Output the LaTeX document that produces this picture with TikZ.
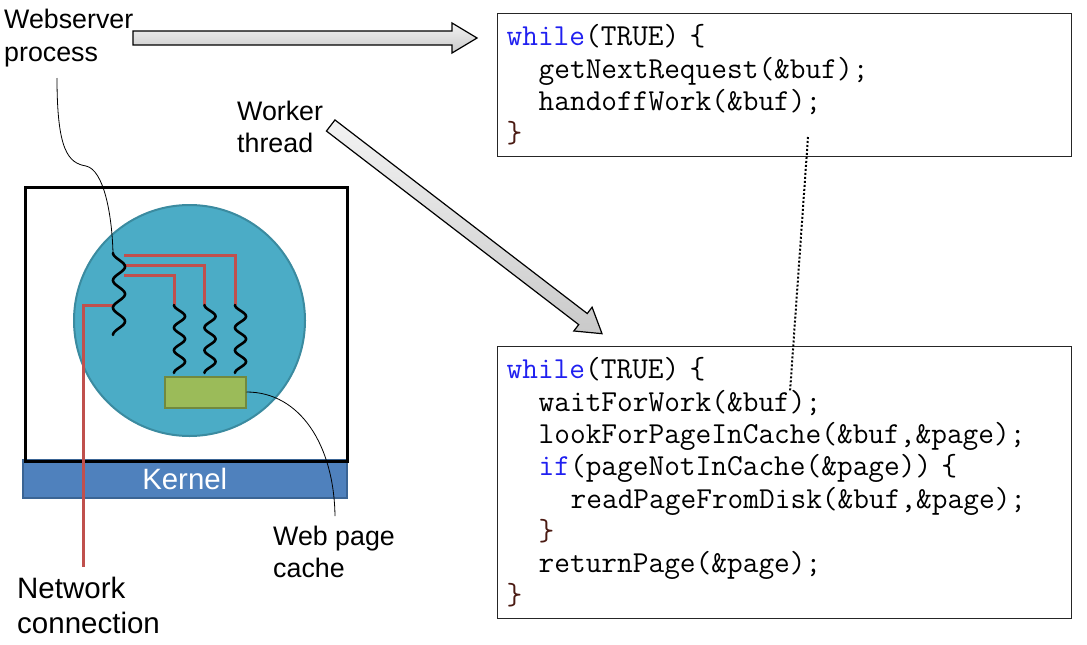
\documentclass[tikz,border=0pt]{standalone}
\usepackage{fontspec}
\setmainfont{Liberation Sans}
\usetikzlibrary{calc}
\definecolor{procblue}{HTML}{4BACC6}
\definecolor{procedge}{HTML}{3B8BA0}
\definecolor{kernelblue}{HTML}{4F81BD}
\definecolor{kerneledge}{HTML}{3A6494}
\definecolor{cachegreen}{HTML}{9BBB59}
\definecolor{cacheedge}{HTML}{71893F}
\definecolor{netred}{HTML}{C0504D}
\definecolor{kwblue}{HTML}{2020F0}
\definecolor{bracered}{HTML}{4A1A12}
\newcommand\codekw[1]{\textcolor{kwblue}{#1}}
\newcommand\codebr[1]{\textcolor{bracered}{#1}}
\newcommand\codeind{\hspace*{1.05em}}
\begin{document}
\begin{tikzpicture}[x=1pt,y=-1pt,
  lbl/.style={font=\fontsize{26.8}{32.5}\selectfont, align=left, inner sep=0pt, anchor=west},
  codebox/.style={draw=black!85, line width=1.2pt, anchor=north west, minimum width=574pt,
    text width=556pt, inner xsep=9pt, inner ysep=0pt, align=left,
    font=\ttfamily\fontsize{30.5}{32.3}\selectfont},
  thread/.style={line width=2.6pt, black, line cap=round},
  wire/.style={netred, line width=3pt},
  leader/.style={black, line width=0.8pt},
  blockarrow/.style={draw=black, line width=1.2pt, top color=gray!10, bottom color=gray!42},
]
\useasboundingbox (0,0) rectangle (1087,645);

% code boxes
\node[codebox, minimum height=143pt] (loop1) at (497,13)
  {\codekw{while}(TRUE) \{\\
   \codeind getNextRequest(\&buf);\\
   \codeind handoffWork(\&buf);\\
   \codebr{\}}};
\node[codebox, minimum height=272pt] (loop2) at (497,346)
  {\codekw{while}(TRUE) \{\\
   \codeind waitForWork(\&buf);\\
   \codeind lookForPageInCache(\&buf,\&page);\\
   \codeind \codekw{if}(pageNotInCache(\&page)) \{\\
   \codeind\codeind readPageFromDisk(\&buf,\&page);\\
   \codeind \codebr{\}}\\
   \codeind returnPage(\&page);\\
   \codebr{\}}};

% operating system box
\node[fill=kernelblue, draw=kerneledge, line width=1.5pt, minimum width=324pt, minimum height=38pt,
  inner sep=0pt, anchor=north west, text=white, font=\fontsize{29.4}{34}\selectfont] (kernel) at (22,459) {Kernel};
\node[draw=black, line width=3pt, minimum width=322pt, minimum height=274pt, inner sep=0pt,
  anchor=north west] (os) at (23.5,185.5) {};
\node[circle, fill=procblue, draw=procedge, line width=2pt, minimum size=231pt, inner sep=0pt] (proc) at (189.5,320.5) {};
\node[fill=cachegreen, draw=cacheedge, line width=2pt, minimum width=81pt, minimum height=31pt,
  inner sep=0pt, anchor=north west] (cache) at (163.5,375.5) {};

% red wires
\coordinate (mainTop) at (113,253);
\coordinate (netEnd) at (83,567);
\draw[wire] (124,255) -| (235,305);
\draw[wire] (124,265) -| (204.5,305);
\draw[wire] (124,275) -| (174,305);
\draw[wire] (113,305) -| (netEnd);

% threads
\draw[thread] plot[domain=0:1, samples=90, smooth] ({113+6-6*cos(3*360*\x)}, {253+82*\x});
\foreach \a in {174,204.5,235}
  \draw[thread] plot[domain=0:1, samples=90, smooth] ({\a+5.5-5.5*cos(3*360*\x)}, {305+68*\x});

% labels
\node[lbl] (ws) at (4,38) {Webserver\\process};
\node[lbl] (wt) at (237,127) {Worker\\thread};
\node[lbl, font=\fontsize{29.5}{35}\selectfont] (net) at (17,605) {Network\\connection};
\node[lbl] (wpc) at (273,552) {Web page\\cache};

% leader lines
\coordinate (wsEnd) at (57,78);
\draw[leader] (wsEnd) .. controls (57,150) and (68,163) .. (86,166)
  .. controls (104,170) and (112,215) .. (mainTop);
\coordinate (wpcEnd) at (335,516);
\draw[leader] (cache.east) .. controls (300,392) and (334,445) .. (wpcEnd);

% block arrows
\draw[blockarrow] (133,31) -- (452,31) -- (452,23) -- (477,38) -- (452,53) -- (452,45) -- (133,45) -- cycle;
\begin{scope}[shift={(330.7,125.5)}, rotate=-37.5]
  \draw[blockarrow] (0,-7) -- (318,-7) -- (318,-15) -- (342,0) -- (318,15) -- (318,7) -- (0,7) -- cycle;
\end{scope}

% dotted link
\coordinate (handoff) at (808,137);
\coordinate (waitfor) at (790,392);
\draw[dotted, line width=2pt] (handoff) -- (waitfor);
\end{tikzpicture}
\end{document}
